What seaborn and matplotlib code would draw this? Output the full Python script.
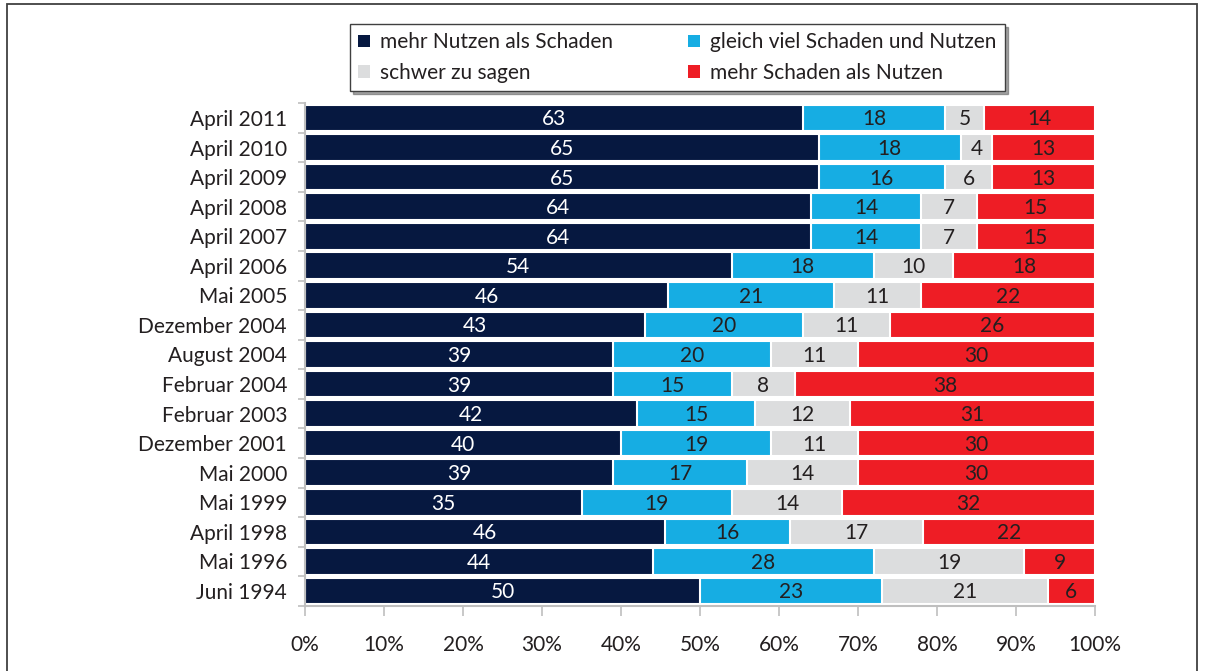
import numpy as np
import pandas as pd
import matplotlib
matplotlib.use("Agg")
import matplotlib.pyplot as plt
from matplotlib.patches import Rectangle, Patch
import seaborn as sns

categories = ["April 2011", "April 2010", "April 2009", "April 2008", "April 2007",
              "April 2006", "Mai 2005", "Dezember 2004", "August 2004", "Februar 2004",
              "Februar 2003", "Dezember 2001", "Mai 2000", "Mai 1999", "April 1998",
              "Mai 1996", "Juni 1994"]
mehr_nutzen = [63, 65, 65, 64, 64, 54, 46, 43, 39, 39, 42, 40, 39, 35, 46, 44, 50]
gleich_viel = [18, 18, 16, 14, 14, 18, 21, 20, 20, 15, 15, 19, 17, 19, 16, 28, 23]
schwer = [5, 4, 6, 7, 7, 10, 11, 11, 11, 8, 12, 11, 14, 14, 17, 19, 21]
mehr_schaden = [14, 13, 13, 15, 15, 18, 22, 26, 30, 38, 31, 30, 30, 32, 22, 9, 6]

series_names = ["mehr Nutzen als Schaden", "gleich viel Schaden und Nutzen",
                "schwer zu sagen", "mehr Schaden als Nutzen"]
series_vals = [mehr_nutzen, gleich_viel, schwer, mehr_schaden]
colors = ["#061840", "#16ADE3", "#DCDDDE", "#EE1D25"]
text_colors = ["white", "#231F20", "#231F20", "#231F20"]

sns.set_theme(style="white")
plt.rcParams["font.family"] = ["Lato", "DejaVu Sans"]

vals = np.array(series_vals, dtype=float)
totals = vals.sum(axis=0)
pct = vals / totals * 100
cum = np.cumsum(pct, axis=0)

fig = plt.figure(figsize=(12.12, 6.71), dpi=100)
ax = fig.add_axes([0.2517, 0.0972, 0.6518, 0.749])

# draw from the rightmost cumulative layer to the left
for i in range(3, -1, -1):
    df = pd.DataFrame({"cat": categories, "val": cum[i]})
    sns.barplot(data=df, x="val", y="cat", orient="h", color=colors[i],
                saturation=1, width=0.9, edgecolor="white", linewidth=1.5, ax=ax)

for i in range(4):
    start = cum[i] - pct[i]
    for j, c in enumerate(categories):
        ax.text(start[j] + pct[i][j] / 2, j + 0.05, f"{int(series_vals[i][j])}",
                ha="center", va="center", fontsize=15, color=text_colors[i])

ax.set_xlim(0, 100)
ax.set_ylim(16.5, -0.5)
ax.set_xlabel("")
ax.set_ylabel("")
ax.set_xticks(np.arange(0, 101, 10))
ax.set_xticklabels([f"{v}%" for v in range(0, 101, 10)], fontsize=15, color="#231F20")
ax.tick_params(axis="x", length=7, width=1.2, color="#BFBFBF", pad=14, direction="out", bottom=True)
ax.set_yticks(range(len(categories)))
ax.set_yticklabels(categories, fontsize=15, color="#231F20")
ax.tick_params(axis="y", length=0, pad=13)
ax.set_yticks(np.arange(-0.5, 17, 1), minor=True)
ax.tick_params(axis="y", which="minor", length=5, width=1.2, color="#BFBFBF", left=True)
for s in ["top", "right"]:
    ax.spines[s].set_visible(False)
for s in ["left", "bottom"]:
    ax.spines[s].set_color("#BFBFBF")
    ax.spines[s].set_linewidth(1.5)

handles = [Patch(facecolor=colors[k], edgecolor="none") for k in [0, 2, 1, 3]]
labels = [series_names[k] for k in [0, 2, 1, 3]]
leg = fig.legend(handles, labels, ncol=2, loc="center", bbox_to_anchor=(0.559, 0.914),
                 fontsize=15, frameon=True, fancybox=False, shadow=True,
                 handlelength=0.55, handleheight=0.55, handletextpad=0.5,
                 columnspacing=3.6, borderpad=0.4, labelspacing=0.5)
leg.get_frame().set_edgecolor("#404040")
leg.get_frame().set_linewidth(1.0)
for t in leg.get_texts():
    t.set_color("#231F20")

fig.patches.append(Rectangle((7 / 1212, -0.02), (1197 - 7) / 1212, 1.02 - 4 / 671,
                             transform=fig.transFigure, fill=False,
                             edgecolor="#404040", linewidth=1.3))

fig.savefig("out.png", dpi=100)
